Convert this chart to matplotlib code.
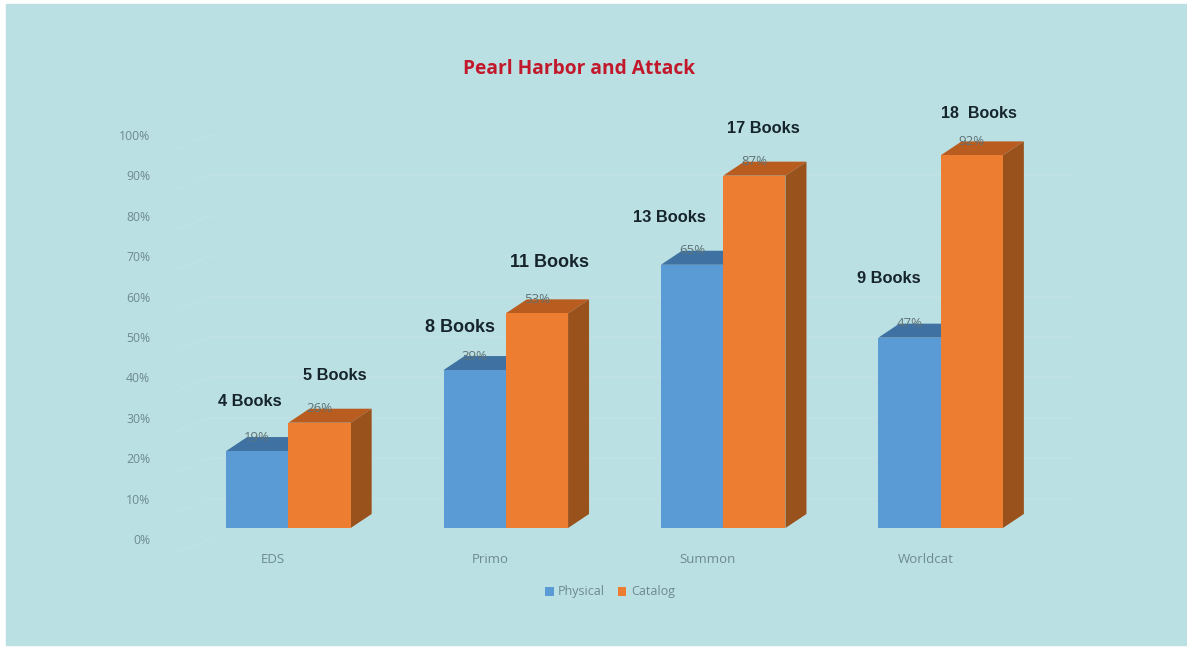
import matplotlib
matplotlib.use("Agg")
import matplotlib.pyplot as plt
from matplotlib.patches import Polygon, Rectangle

W, H = 1187, 649

categories = ["EDS", "Primo", "Summon", "Worldcat"]
physical = [19, 39, 65, 47]
catalog = [26, 53, 87, 92]
physical_books = ["4 Books", "8 Books", "13 Books", "9 Books"]
catalog_books = ["5 Books", "11 Books", "17 Books", "18  Books"]
y_ticks = list(range(0, 101, 10))

# where the hand placed book labels sit, px from the top of each bar
physical_book_off = [(-7, 50), (-15, 43), (-23, 47), (-21, 59)]
catalog_book_off = [(15, 47), (13, 51), (9, 47), (7, 42)]
# the Primo labels are a bit bigger in the original
physical_book_size = [11.8, 13, 11.8, 11.8]
catalog_book_size = [11.8, 13, 11.8, 11.5]

BG = "#bbe0e3"
GRID = "#c0e2e5"
TICK = "#6d8a91"
FONT = "Open Sans"


def axes_px(fig, left, top, right, bottom):
    return fig.add_axes([left / W, 1 - bottom / H, (right - left) / W, (bottom - top) / H])


def px(v):
    # offsets are measured in pixels, annotate wants points
    return v * 72 / 100


fig = plt.figure(figsize=(W / 100, H / 100), dpi=100, facecolor="white")
fig.patches.append(Rectangle((6 / W, 4 / H), (W - 6) / W, (H - 8) / H, transform=fig.transFigure, color=BG, zorder=-5))

# back wall: ticks, grid and category names sit on it
back = axes_px(fig, 210, 135, 1075, 539)
back.patch.set_alpha(0)
back.set_xlim((210 - 273) / 217.5, (1075 - 273) / 217.5)
back.set_ylim(0, 100)
back.set_yticks(y_ticks, [f"{t}%" for t in y_ticks], family=FONT, size=8.8, color=TICK)
back.set_xticks(range(len(categories)), categories, family=FONT, size=9.5, color=TICK)
back.tick_params(axis="y", length=0, pad=43)
back.tick_params(axis="x", length=0, pad=10)
back.grid(axis="y", color=GRID, lw=1.2)
for s in back.spines.values():
    s.set_visible(False)

# side wall lines running toward the back
for t in y_ticks:
    back.plot([-0.45, -0.29], [t - 3.5, t], color=GRID, lw=1, clip_on=False)

# front plane: 217.5 px per category, 4.05 px per percent
ax = axes_px(fig, 71, 123, 1158, 528)
ax.patch.set_alpha(0)
ax.set_xlim(-1, 4)
ax.set_ylim(0, 100)
ax.axis("off")

bar_w = 62.3 / 217.5
dx = 21 / 217.5
dy = 14 / 4.05


def draw_series(values, x_off, front, top, side, label, z):
    xs = [i + x_off for i in range(len(values))]
    bars = ax.bar(xs, values, bar_w, color=front, label=label, zorder=z + 1, linewidth=0)
    for x, v in zip(xs, values):
        l, r = x - bar_w / 2, x + bar_w / 2
        ax.add_patch(Polygon([(l, v), (r, v), (r + dx, v + dy), (l + dx, v + dy)], color=top, lw=0, zorder=z))
        ax.add_patch(Polygon([(r, 0), (r + dx, dy), (r + dx, v + dy), (r, v)], color=side, lw=0, zorder=z))
        ax.annotate(f"{v}%", (x, v), xytext=(0, px(14)), textcoords="offset points", ha="center", va="center",
                    family=FONT, size=9.5, color="#5f7275", zorder=9)
    return bars, xs


b1, xs1 = draw_series(physical, -bar_w / 2, "#5b9bd5", "#3f72a3", "#3f72a3", "Physical", 2)
b2, xs2 = draw_series(catalog, bar_w / 2, "#ed7d31", "#b95c20", "#9a521c", "Catalog", 4)

for xs, vals, names, offs, sizes in [(xs1, physical, physical_books, physical_book_off, physical_book_size),
                                     (xs2, catalog, catalog_books, catalog_book_off, catalog_book_size)]:
    for x, v, name, off, sz in zip(xs, vals, names, offs, sizes):
        ax.annotate(name, (x, v), xytext=(px(off[0]), px(off[1])), textcoords="offset points",
                    ha="center", va="center", family="Liberation Sans", weight="bold", size=sz,
                    color="#16242c", zorder=10)

fig.text(579 / W, 1 - 69 / H, "Pearl Harbor and Attack", ha="center", va="center", family=FONT,
         weight="bold", size=13.8, color="#c2182b")

leg = fig.legend(handles=[b1, b2], loc="center", bbox_to_anchor=(610 / W, 1 - 592 / H), ncol=2, frameon=False,
                 prop={"family": FONT, "size": 9}, labelcolor=TICK, handlelength=0.7, handleheight=0.7,
                 handletextpad=0.35, columnspacing=1.0)

fig.savefig("out.png", dpi=100, facecolor=fig.get_facecolor())
